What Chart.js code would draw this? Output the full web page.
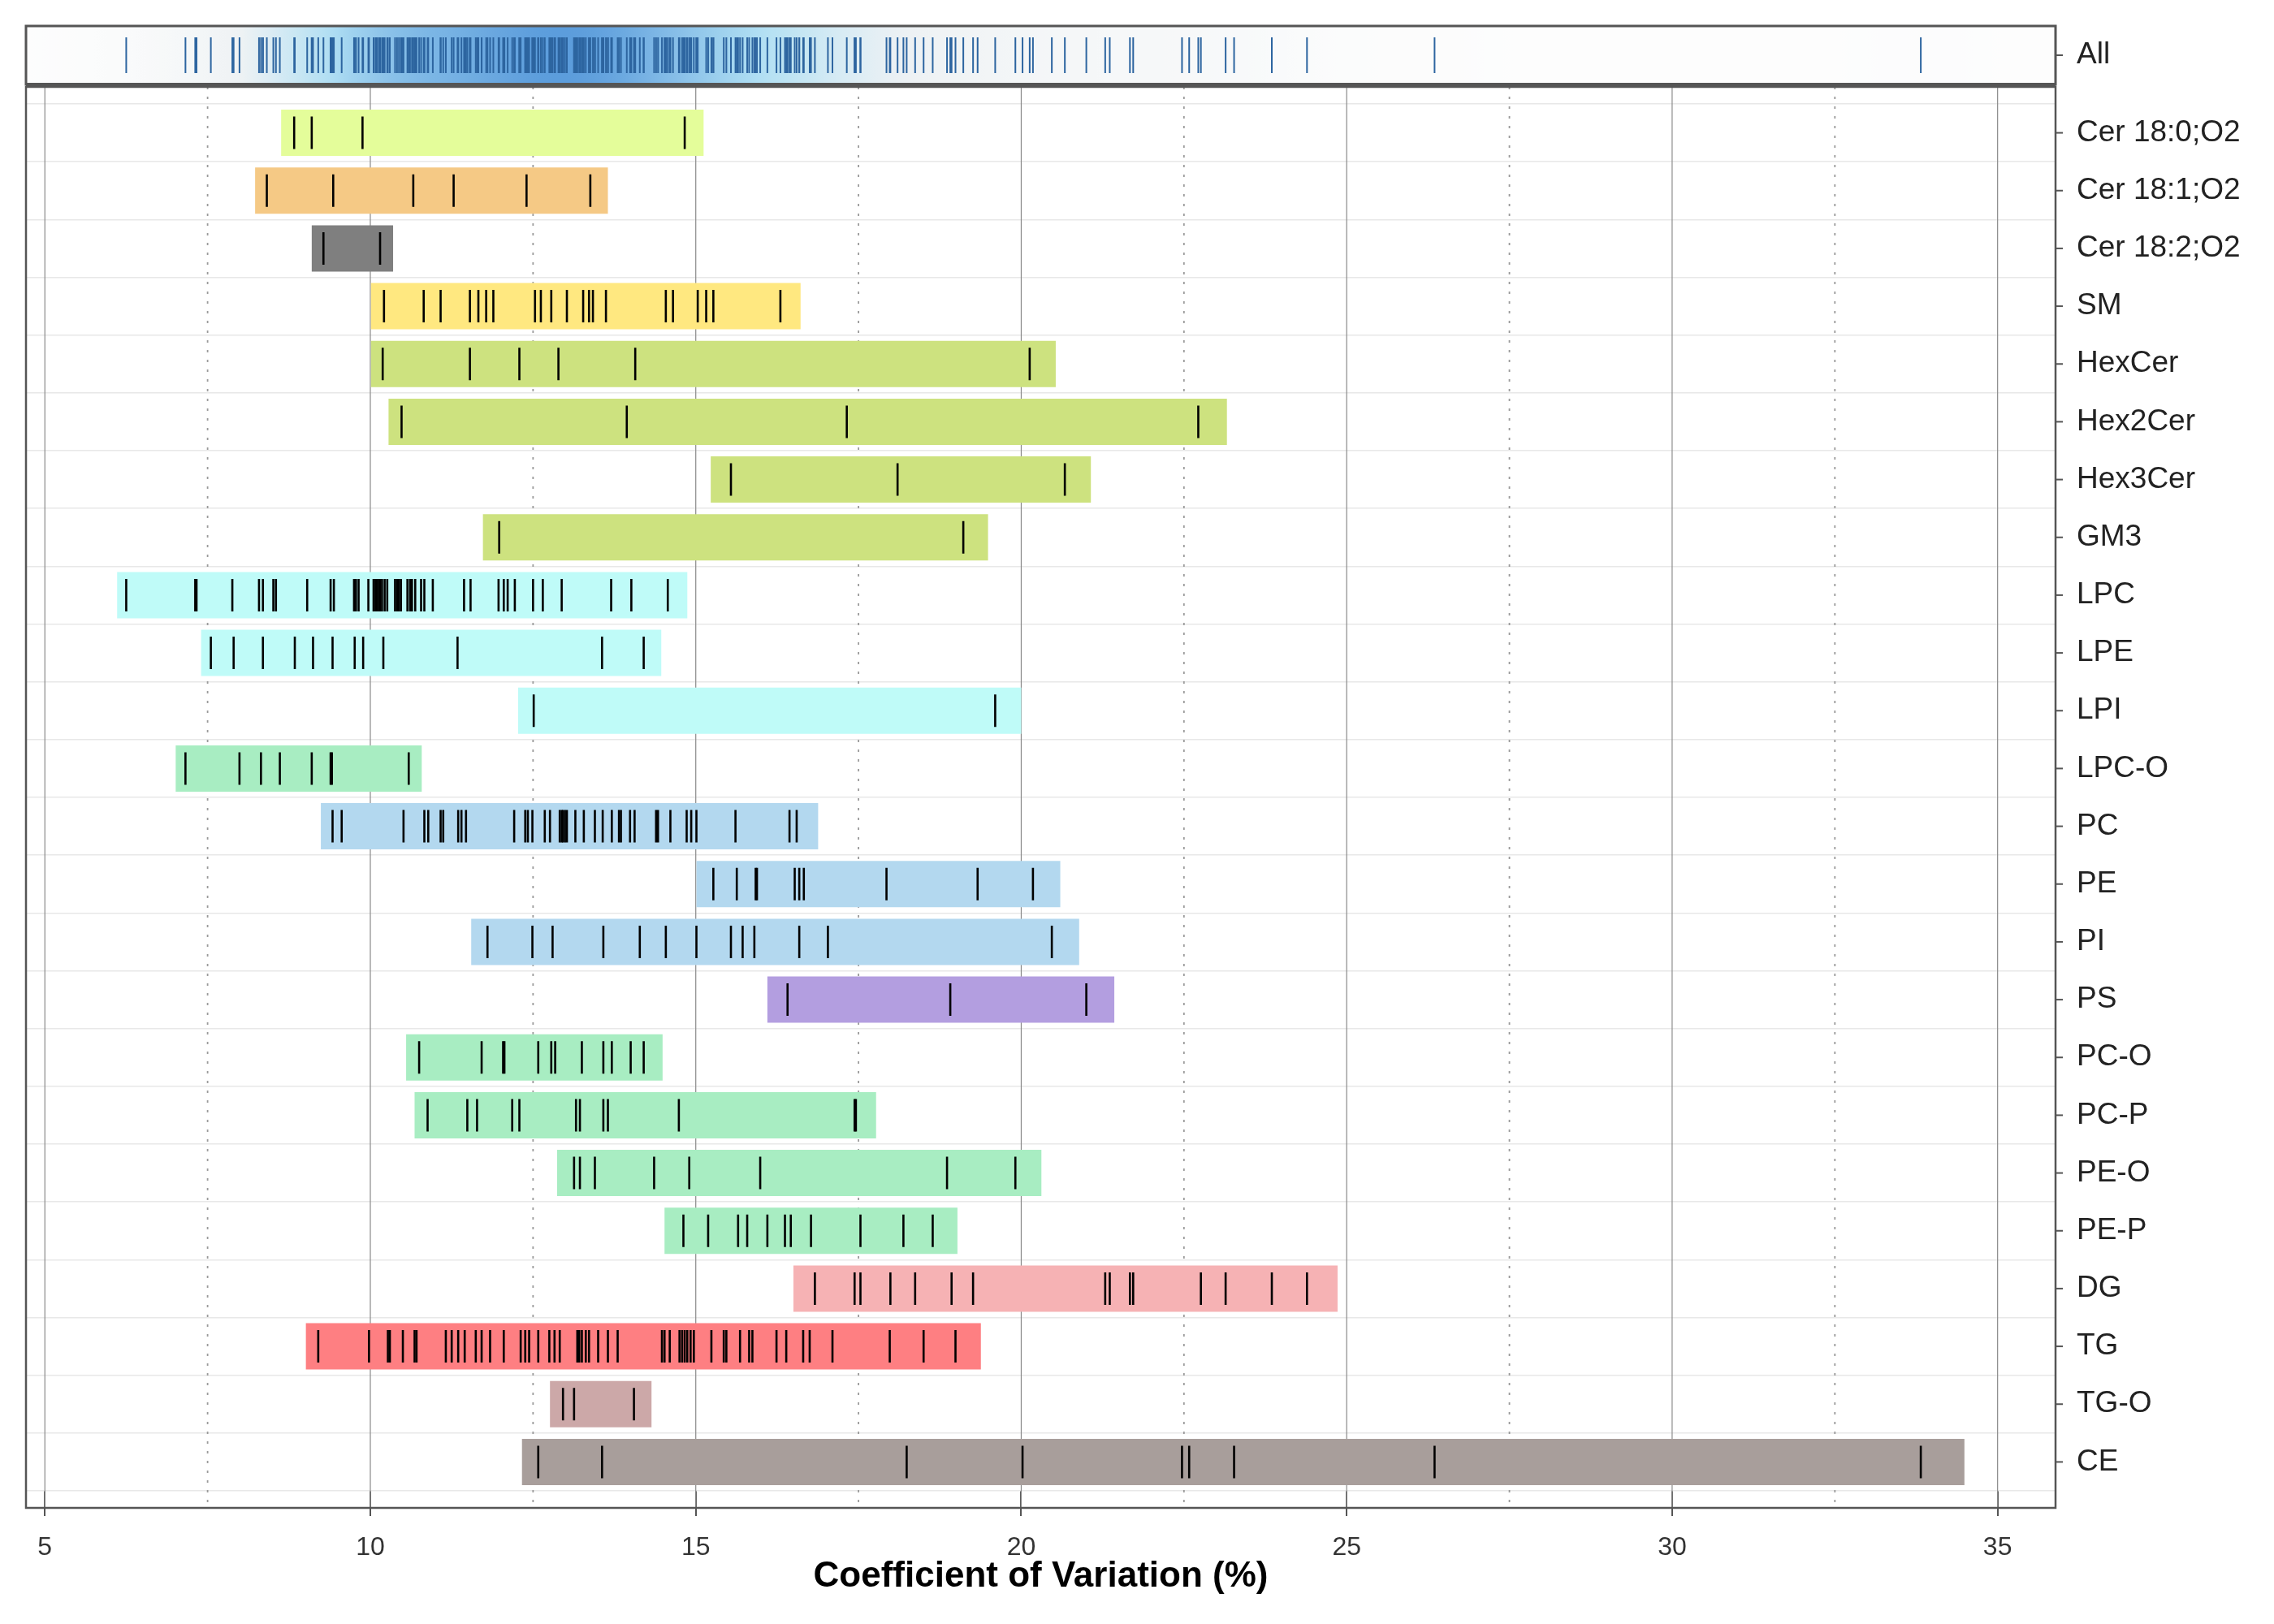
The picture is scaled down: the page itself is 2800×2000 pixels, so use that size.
<!DOCTYPE html>
<html><head><meta charset="utf-8">
<script src="https://cdn.jsdelivr.net/npm/chart.js@4.4.1/dist/chart.umd.min.js"></script>
<style>body{margin:0;background:#fff;width:2800px;height:2000px;position:relative}canvas{position:absolute;left:0;top:0}</style>
</head><body>
<canvas id="c2" width="2800" height="2000"></canvas>
<canvas id="c1" width="2800" height="128"></canvas>
<script>
const categories = ["Cer 18:0;O2","Cer 18:1;O2","Cer 18:2;O2","SM","HexCer","Hex2Cer","Hex3Cer","GM3","LPC","LPE","LPI","LPC-O","PC","PE","PI","PS","PC-O","PC-P","PE-O","PE-P","DG","TG","TG-O","CE"];
const rangeStart = [8.63,8.23,9.10,10.01,10.01,10.28,15.23,11.73,6.11,7.40,12.27,7.01,9.24,15.01,11.55,16.10,10.55,10.68,12.87,14.52,16.50,9.01,12.76,12.33];
const rangeEnd = [15.12,13.65,10.35,16.61,20.53,23.16,21.07,19.49,14.87,14.47,20.00,10.79,16.88,20.60,20.89,21.43,14.49,17.77,20.31,19.02,24.86,19.38,14.32,34.49];
const cv_Cer180 = [8.83,9.10,9.88,14.83];
const cv_Cer181 = [8.41,9.43,10.66,11.28,12.40,13.38];
const cv_Cer182 = [9.28,10.15];
const cv_SM = [10.21,10.82,11.08,11.53,11.66,11.78,11.89,12.53,12.62,12.78,13.02,13.27,13.36,13.42,13.62,14.54,14.65,15.03,15.16,15.27,16.30];
const cv_HexCer = [10.19,11.53,12.29,12.89,14.07,20.13];
const cv_Hex2Cer = [10.48,13.94,17.32,22.72];
const cv_Hex3Cer = [15.54,18.10,20.67];
const cv_GM3 = [11.98,19.11];
const cv_LPC = [6.25,7.31,7.33,7.88,8.29,8.35,8.51,8.55,9.03,9.39,9.44,9.75,9.78,9.82,9.97,10.05,10.08,10.10,10.13,10.15,10.18,10.22,10.26,10.38,10.41,10.44,10.47,10.57,10.61,10.64,10.69,10.78,10.83,10.96,11.44,11.54,11.97,12.05,12.11,12.22,12.50,12.65,12.94,13.70,14.01,14.57];
const cv_LPE = [7.55,7.90,8.35,8.84,9.12,9.42,9.76,9.89,10.20,11.34,13.56,14.20];
const cv_LPI = [12.51,19.60];
const cv_LPCO = [7.16,7.99,8.32,8.61,9.10,9.39,9.41,10.59];
const cv_PC = [9.42,9.56,10.51,10.83,10.89,11.08,11.12,11.35,11.40,11.47,12.21,12.38,12.42,12.49,12.68,12.76,12.91,12.94,12.96,12.99,13.02,13.15,13.28,13.45,13.57,13.71,13.82,13.85,13.99,14.06,14.39,14.42,14.61,14.86,14.93,15.01,15.61,16.44,16.55];
const cv_PE = [15.27,15.63,15.92,15.94,16.52,16.59,16.66,17.93,19.33,20.18];
const cv_PI = [11.80,12.49,12.80,13.58,14.14,14.54,15.01,15.54,15.72,15.90,16.59,17.03,20.47];
const cv_PS = [16.41,18.91,21.00];
const cv_PCO = [10.75,11.71,12.04,12.06,12.58,12.78,12.84,13.25,13.58,13.71,14.00,14.20];
const cv_PCP = [10.88,11.49,11.64,12.18,12.29,13.16,13.22,13.58,13.65,14.74,17.44,17.46];
const cv_PEO = [13.13,13.22,13.45,14.36,14.90,15.99,18.86,19.91];
const cv_PEP = [14.81,15.19,15.65,15.79,16.10,16.37,16.46,16.77,17.53,18.19,18.64];
const cv_DG = [16.83,17.44,17.53,17.99,18.37,18.93,19.26,21.29,21.36,21.67,21.72,22.76,23.14,23.85,24.39];
const cv_TG = [9.20,9.98,10.27,10.30,10.50,10.68,10.71,11.16,11.25,11.35,11.45,11.62,11.71,11.84,12.05,12.31,12.38,12.44,12.58,12.75,12.83,12.91,13.18,13.21,13.25,13.31,13.36,13.50,13.65,13.80,14.48,14.52,14.60,14.75,14.79,14.83,14.87,14.92,14.97,15.24,15.43,15.47,15.68,15.82,15.87,16.24,16.39,16.65,16.75,17.10,17.98,18.50,18.99];
const cv_TGO = [12.96,13.13,14.05];
const cv_CE = [12.58,13.56,18.24,20.02,22.47,22.58,23.27,26.35,33.82];
const xTicks = [5,10,15,20,25,30,35];
const allLabel = 'All';

const cvLists = [cv_Cer180,cv_Cer181,cv_Cer182,cv_SM,cv_HexCer,cv_Hex2Cer,cv_Hex3Cer,cv_GM3,cv_LPC,cv_LPE,cv_LPI,cv_LPCO,cv_PC,cv_PE,cv_PI,cv_PS,cv_PCO,cv_PCP,cv_PEO,cv_PEP,cv_DG,cv_TG,cv_TGO,cv_CE];
const colors = ['#e4fd9a','#f5c985','#7f7f7f','#ffe880','#cde27f','#cde27f','#cde27f','#cde27f','#bffbf8','#bffbf8','#bffbf8','#a8edc2','#b3d8ef','#b3d8ef','#b3d8ef','#b39ee0','#a8edc2','#a8edc2','#a8edc2','#a8edc2','#f6b2b4','#fe7f82','#cca8a8','#a89e9b'];
const allVals = cvLists.flat();
const XMIN = 4.71, XMAX = 35.89;
const FONT = 'Arial, "Liberation Sans", sans-serif';
const RIGHT_W = 2800-2531;
const LABEL_SIZE = 37;

function vGrid(chart, top, bottom){
  const ctx=chart.ctx, xs=chart.scales.x;
  ctx.save();
  for(let v=5; v<=35.01; v+=2.5){
    const px=xs.getPixelForValue(v);
    ctx.beginPath();
    const major = Math.abs(v%5)<1e-6;
    ctx.strokeStyle = major ? '#8a8a8a' : '#9a9a9a';
    ctx.lineWidth = major ? 1.2 : 1.8;
    ctx.setLineDash(major?[]:[3,9]);
    ctx.moveTo(px,top); ctx.lineTo(px,bottom); ctx.stroke();
  }
  ctx.restore();
}

const PADR = 21;
const datasets = [{
  type:'bar', data: rangeStart.map((s,i)=>[s,rangeEnd[i]]), backgroundColor: colors,
  barPercentage: 0.8, categoryPercentage: 1.0, order: 2
}];
cvLists.forEach((arr,i)=>{
  datasets.push({type:'scatter', data: arr.map(v=>({x:v,y:categories[i]})), pointStyle:'line', rotation:90, radius:20, hoverRadius:20, borderColor:'#000', borderWidth:2.6, order:1});
});
const framePlugin2 = {
  id:'frame2',
  beforeDatasetsDraw(chart){
    const a=chart.chartArea; vGrid(chart, a.top-PADR, a.bottom+PADR);
  },
  afterDraw(chart){
    const a=chart.chartArea, ctx=chart.ctx, ys=chart.scales.y;
    ctx.save(); ctx.strokeStyle='#555'; ctx.lineWidth=2.5;
    ctx.strokeRect(a.left, a.top-PADR, a.right-a.left, a.bottom-a.top+2*PADR);
    ctx.lineWidth=2;
    categories.forEach((c,i)=>{const y=ys.getPixelForValue(i); ctx.beginPath(); ctx.moveTo(a.right,y); ctx.lineTo(a.right+9,y); ctx.stroke();});
    ctx.restore();
  }
};
new Chart(document.getElementById('c2'), {
  data:{labels:categories, datasets},
  options:{
    indexAxis:'y', responsive:false, animation:false, devicePixelRatio:1,
    layout:{padding:{left:32, top:107+PADR, bottom:24, right:0}},
    plugins:{legend:{display:false}, tooltip:{enabled:false}},
    scales:{
      x:{type:'linear', min:XMIN, max:XMAX, afterBuildTicks(s){s.ticks=xTicks.map(v=>({value:v}));},
        afterFit(s){s.height=140;},
        grid:{drawOnChartArea:false, tickLength:10+PADR, color:'#555', lineWidth:2, offset:false},
        border:{display:false},
        ticks:{font:{family:FONT,size:32}, color:'#333', padding:20, maxRotation:0},
        title:{display:true, text:'Coefficient of Variation (%)', font:{family:FONT,size:44,weight:'bold'}, color:'#000', padding:{top:4,bottom:8}}
      },
      y:{type:'category', position:'right', offset:true,
        afterFit(s){s.width=RIGHT_W;},
        grid:{offset:true, color:'#e8e8e8', lineWidth:1.5, tickLength:0, drawTicks:false},
        border:{display:false},
        ticks:{font:{family:FONT,size:LABEL_SIZE}, color:'#222', padding:26}
      }
    }
  },
  plugins:[framePlugin2]
});

// All strip
const cmap = [[0,[253,253,253]],[0.3,[238,242,244]],[0.6,[176,223,243]],[1,[92,157,220]]];
function colorAt(t){
  for(let i=1;i<cmap.length;i++){
    if(t<=cmap[i][0]){
      const [t0,c0]=cmap[i-1],[t1,c1]=cmap[i]; const f=(t-t0)/(t1-t0);
      return `rgb(${c0.map((c,j)=>Math.round(c+(c1[j]-c)*f)).join(',')})`;
    }
  }
  return `rgb(${cmap[cmap.length-1][1].join(',')})`;
}
const densityPlugin = {
  id:'density',
  beforeDatasetsDraw(chart){
    const a=chart.chartArea, ctx=chart.ctx;
    const bw=1.0, N=150, dens=[];
    let mx=0;
    for(let k=0;k<=N;k++){
      const v=XMIN+(XMAX-XMIN)*k/N; let d=0;
      allVals.forEach(u=>{d+=Math.exp(-0.5*((v-u)/bw)**2);});
      dens.push(d); mx=Math.max(mx,d);
    }
    const g=ctx.createLinearGradient(a.left,0,a.right,0);
    dens.forEach((d,k)=>{ g.addColorStop(k/N, colorAt(Math.pow(d/mx,0.9))); });
    ctx.save(); ctx.fillStyle=g; ctx.fillRect(a.left,a.top,a.right-a.left,a.bottom-a.top); ctx.restore();
  },
  afterDraw(chart){
    const a=chart.chartArea, ctx=chart.ctx;
    ctx.save(); ctx.strokeStyle='#555'; ctx.lineWidth=3;
    ctx.strokeRect(a.left,a.top,a.right-a.left,a.bottom-a.top);
    ctx.beginPath(); ctx.lineWidth=4; ctx.moveTo(a.left,a.bottom); ctx.lineTo(a.right,a.bottom); ctx.stroke();
    const ym=(a.top+a.bottom)/2;
    ctx.lineWidth=2; ctx.beginPath(); ctx.moveTo(a.right,ym); ctx.lineTo(a.right+9,ym); ctx.stroke();
    ctx.fillStyle='#222'; ctx.font=`${LABEL_SIZE}px ${FONT}`; ctx.textBaseline='middle'; ctx.textAlign='left';
    ctx.fillText(allLabel, a.right+26, ym);
    ctx.restore();
  }
};
new Chart(document.getElementById('c1'), {
  type:'scatter',
  data:{datasets:[{data: allVals.map(v=>({x:v,y:0})), pointStyle:'line', rotation:90, radius:22, borderColor:'#2d65a0', borderWidth:2}]},
  options:{
    responsive:false, animation:false, devicePixelRatio:1,
    layout:{padding:{left:32, top:32, bottom:0, right:RIGHT_W}},
    plugins:{legend:{display:false}, tooltip:{enabled:false}},
    scales:{
      x:{type:'linear', min:XMIN, max:XMAX, display:false},
      y:{type:'linear', min:-1, max:1, display:false}
    }
  },
  plugins:[densityPlugin]
});
</script>
</body></html>
